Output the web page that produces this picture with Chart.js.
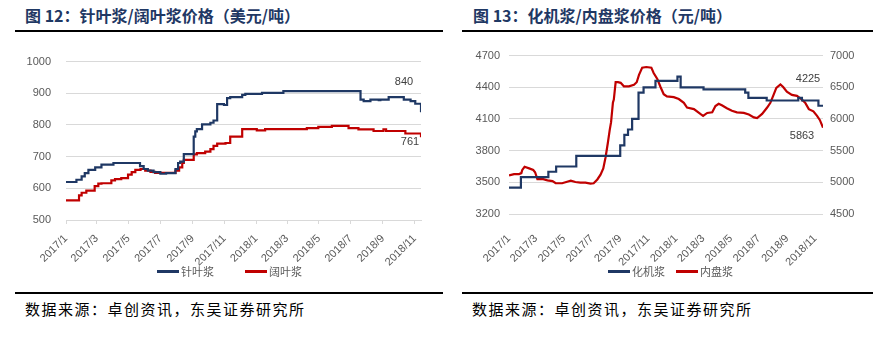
<!DOCTYPE html>
<html>
<head>
<meta charset="utf-8">
<script src="https://cdn.jsdelivr.net/npm/chart.js@4.4.0/dist/chart.umd.min.js"></script>
<style>
  body { margin: 0; width: 894px; height: 343px; background: #fff; position: relative; overflow: hidden; font-family: "Noto Sans CJK SC", sans-serif; }
  .title { position: absolute; top: 5px; font-size: 16px; font-weight: 700; color: #1f3864; white-space: nowrap; line-height: 20px; }
  .rule { position: absolute; height: 2px; background: #000; }
  .source { position: absolute; top: 299px; font-size: 15px; letter-spacing: 1.5px; color: #000; line-height: 20px; white-space: nowrap; }
  canvas { position: absolute; top: 40px; }
  .legend { position: absolute; top: 263px; display: flex; font-size: 11px; color: #595959; line-height: 16px; white-space: nowrap; }
  .legend .item { display: flex; align-items: center; }
  .legend i { display: inline-block; width: 22px; height: 3px; margin-right: 2px; }
</style>
</head>
<body>
<div class="title" style="left:25px">图 12：针叶浆/阔叶浆价格（美元/吨）</div>
<div class="rule" style="left:15px; width:428px; top:30px"></div>
<div class="title" style="left:473px">图 13：化机浆/内盘浆价格（元/吨）</div>
<div class="rule" style="left:462px; width:411px; top:30px"></div>

<canvas id="pulp-import" width="440" height="245" style="left:0"></canvas>
<canvas id="pulp-domestic" width="447" height="245" style="left:447px"></canvas>

<div class="legend" id="legend-import" style="left:157px; gap:31px"></div>
<div class="legend" id="legend-domestic" style="left:608px; gap:11px"></div>

<div class="rule" style="left:15px; width:428px; top:292px"></div>
<div class="source" style="left:25px">数据来源：卓创资讯，东吴证券研究所</div>
<div class="rule" style="left:462px; width:411px; top:292px"></div>
<div class="source" style="left:472px">数据来源：卓创资讯，东吴证券研究所</div>

<script>
const xTickLabels = ['2017/1', '2017/3', '2017/5', '2017/7', '2017/9', '2017/11',
  '2018/1', '2018/3', '2018/5', '2018/7', '2018/9', '2018/11'];

// 针叶浆 (美元/吨): each price holds from its date until the next one
const softwoodDates = ['2017-01-01', '2017-01-21', '2017-01-31', '2017-02-06', '2017-02-13', '2017-02-26',
  '2017-03-10', '2017-04-02', '2017-05-23', '2017-05-30', '2017-06-07', '2017-06-18', '2017-07-01',
  '2017-07-12', '2017-07-30', '2017-08-04', '2017-08-08', '2017-08-15', '2017-09-03', '2017-09-06',
  '2017-09-09', '2017-09-19', '2017-10-05', '2017-10-11', '2017-10-18', '2017-10-31', '2017-11-06',
  '2017-11-12', '2017-12-05', '2017-12-11', '2018-01-12', '2018-02-22', '2018-07-20', '2018-07-26',
  '2018-08-08', '2018-08-24', '2018-08-27', '2018-09-12', '2018-10-11', '2018-10-24', '2018-11-02',
  '2018-11-13'];
const softwoodPrices = [620, 627, 638, 648, 658, 666,
  675, 680, 670, 661, 656, 651, 646,
  648, 661, 680, 684, 708, 763, 780,
  787, 802, 807, 814, 866, 863, 885,
  888, 895, 898, 901, 907, 880, 875,
  880, 878, 880, 888, 880, 875, 867,
  840];

// 阔叶浆 (美元/吨)
const hardwoodDates = ['2017-01-01', '2017-01-26', '2017-01-31', '2017-02-09', '2017-02-25', '2017-03-04',
  '2017-03-10', '2017-03-29', '2017-04-05', '2017-04-17', '2017-04-30', '2017-05-07', '2017-05-14',
  '2017-05-24', '2017-06-02', '2017-06-12', '2017-06-21', '2017-07-30', '2017-08-06', '2017-08-12',
  '2017-08-15', '2017-09-03', '2017-09-09', '2017-09-25', '2017-10-05', '2017-10-11', '2017-10-18',
  '2017-11-03', '2017-11-12', '2017-12-05', '2018-01-02', '2018-01-18', '2018-04-08', '2018-04-30',
  '2018-05-26', '2018-06-27', '2018-07-16', '2018-08-14', '2018-09-02', '2018-09-07', '2018-10-14',
  '2018-11-13'];
const hardwoodPrices = [562, 578, 586, 593, 607, 615,
  616, 625, 629, 632, 643, 651, 658,
  661, 656, 652, 649, 656, 666, 680,
  690, 707, 711, 716, 724, 734, 741,
  743, 763, 787, 783, 787, 790, 794,
  797, 790, 786, 781, 786, 781, 773,
  761];

// 化机浆 (元/吨)
const bctmpDates = ['2017-01-01', '2017-01-27', '2017-03-28', '2017-04-14', '2017-05-28', '2017-09-01',
  '2017-09-10', '2017-09-18', '2017-09-27', '2017-10-11', '2017-10-22', '2017-11-17', '2018-01-04',
  '2018-01-11', '2018-03-02', '2018-06-01', '2018-06-08', '2018-07-18', '2018-09-25', '2018-10-03',
  '2018-11-08', '2018-11-18'];
const bctmpPrices = [3450, 3550, 3600, 3650, 3750, 3850,
  3950, 4000, 4100, 4350, 4400, 4460, 4500,
  4400, 4380, 4350, 4300, 4275, 4300, 4275,
  4225, 4225];

// 内盘浆 (元/吨)
const domesticDates = ['2017-01-01', '2017-01-12', '2017-01-23', '2017-01-28', '2017-01-30', '2017-02-04',
  '2017-02-14', '2017-02-23', '2017-02-27', '2017-03-04', '2017-03-15', '2017-03-26', '2017-04-06',
  '2017-04-13', '2017-04-27', '2017-05-08', '2017-05-16', '2017-05-26', '2017-06-06', '2017-06-17',
  '2017-06-28', '2017-07-05', '2017-07-13', '2017-07-20', '2017-07-26', '2017-07-31', '2017-08-05',
  '2017-08-09', '2017-08-12', '2017-08-16', '2017-08-18', '2017-08-22', '2017-08-27', '2017-09-02',
  '2017-09-09', '2017-09-20', '2017-10-01', '2017-10-07', '2017-10-12', '2017-10-19', '2017-10-28',
  '2017-11-08', '2017-11-13', '2017-11-21', '2017-11-28', '2017-12-05', '2017-12-12', '2017-12-27',
  '2018-01-07', '2018-01-18', '2018-01-25', '2018-02-09', '2018-02-23', '2018-03-01', '2018-03-10',
  '2018-03-21', '2018-03-28', '2018-04-04', '2018-04-11', '2018-04-22', '2018-05-03', '2018-05-14',
  '2018-05-29', '2018-06-09', '2018-06-20', '2018-06-27', '2018-07-08', '2018-07-19', '2018-07-26',
  '2018-08-02', '2018-08-08', '2018-08-17', '2018-08-23', '2018-08-31', '2018-09-11', '2018-09-22',
  '2018-10-03', '2018-10-10', '2018-10-18', '2018-10-28', '2018-11-05', '2018-11-11', '2018-11-16',
  '2018-11-18'];
const domesticPrices = [5110, 5130, 5130, 5145, 5195, 5245,
  5220, 5195, 5160, 5050, 5055, 5030, 5020,
  4985, 4985, 5010, 5025, 5005, 4995, 4995,
  4980, 4985, 5045, 5120, 5220, 5395, 5625,
  5825, 5950, 6255, 6305, 6580, 6580, 6570,
  6515, 6515, 6540, 6580, 6695, 6810, 6820,
  6810, 6725, 6630, 6505, 6390, 6355, 6345,
  6315, 6255, 6180, 6155, 6080, 6050, 6095,
  6105, 6205, 6240, 6215, 6170, 6130, 6105,
  6095, 6070, 6025, 6015, 6080, 6180, 6255,
  6380, 6490, 6545, 6505, 6430, 6380, 6365,
  6305, 6255, 6155, 6120, 6050, 5985, 5900,
  5863];

const NAVY = '#1f3864';
const RED = '#c00000';
const TICK_FONT = { family: '"Liberation Sans", Arial, sans-serif', size: 11 };
const TICK_COLOR = '#595959';
const GRID_COLOR = '#d9d9d9';

// days since 2017-01-01, used as the x value
const BASE = Date.UTC(2017, 0, 1);
function dayOf(str) {
  const [y, m, d] = str.split('-').map(Number);
  return (Date.UTC(y, m - 1, d) - BASE) / 86400000;
}
function toPoints(dates, values) {
  return dates.map((d, i) => ({ x: dayOf(d), y: values[i] }));
}
const xTickDays = xTickLabels.map(l => {
  const [y, m] = l.split('/');
  return dayOf(`${y}-${m}-1`);
});

// prints the last value of a series next to the end of its line
const endLabels = {
  id: 'endLabels',
  afterDatasetsDraw(chart) {
    const ctx = chart.ctx;
    chart.data.datasets.forEach((ds, i) => {
      if (!ds.endLabel) return;
      const pts = chart.getDatasetMeta(i).data;
      const last = pts[pts.length - 1];
      ctx.save();
      ctx.font = '11px "Liberation Sans", Arial, sans-serif';
      ctx.fillStyle = '#404040';
      ctx.textAlign = 'center';
      ctx.textBaseline = 'middle';
      ctx.fillText(String(ds.data[ds.data.length - 1].y), last.x + ds.endLabel.dx, last.y + ds.endLabel.dy);
      ctx.restore();
    });
  }
};

function dateAxis(lastDate, height, showLine, padding) {
  return {
    type: 'linear',
    min: 0,
    max: dayOf(lastDate),
    afterBuildTicks: scale => { scale.ticks = xTickDays.map(v => ({ value: v })); },
    afterFit: scale => { scale.height = height; },
    ticks: {
      autoSkip: false,
      minRotation: 45,
      maxRotation: 45,
      padding: padding,
      font: TICK_FONT,
      color: TICK_COLOR,
      callback: (value, index) => xTickLabels[index]
    },
    grid: { display: showLine, drawOnChartArea: false, tickLength: 4, color: GRID_COLOR },
    border: { display: showLine, color: GRID_COLOR }
  };
}

function valueAxis(min, max, step, width, padding, position) {
  return {
    position: position,
    min: min,
    max: max,
    afterFit: scale => { scale.width = width; },
    ticks: {
      stepSize: step,
      padding: padding,
      font: TICK_FONT,
      color: TICK_COLOR,
      callback: value => String(value)
    },
    grid: { color: GRID_COLOR, drawTicks: false, drawOnChartArea: position === 'left' },
    border: { display: false }
  };
}

function lineSet(label, color, points, stepped, yAxisID, endLabel) {
  return {
    label: label,
    data: points,
    borderColor: color,
    backgroundColor: color,
    borderWidth: 2.2,
    pointRadius: 0,
    stepped: stepped,
    tension: 0,
    yAxisID: yAxisID,
    endLabel: endLabel
  };
}

function buildLegend(id, chart) {
  const box = document.getElementById(id);
  chart.data.datasets.forEach(ds => {
    const item = document.createElement('span');
    item.className = 'item';
    const swatch = document.createElement('i');
    swatch.style.background = ds.borderColor;
    item.appendChild(swatch);
    item.appendChild(document.createTextNode(ds.label));
    box.appendChild(item);
  });
}

const importChart = new Chart(document.getElementById('pulp-import'), {
  type: 'line',
  data: {
    datasets: [
      lineSet('针叶浆', NAVY, toPoints(softwoodDates, softwoodPrices), true, 'y', { dx: -17, dy: -30 }),
      lineSet('阔叶浆', RED, toPoints(hardwoodDates, hardwoodPrices), true, 'y', { dx: -11, dy: 5 })
    ]
  },
  options: {
    responsive: false,
    animation: false,
    devicePixelRatio: 1,
    layout: { padding: { top: 9, right: 19, left: 0, bottom: 0 } },
    plugins: { legend: { display: false }, tooltip: { enabled: false } },
    scales: {
      x: dateAxis('2018-11-13', 65, true, 8),
      y: valueAxis(500, 1000, 100, 66, 15, 'left')
    }
  },
  plugins: [endLabels]
});

const domesticChart = new Chart(document.getElementById('pulp-domestic'), {
  type: 'line',
  data: {
    datasets: [
      lineSet('化机浆', NAVY, toPoints(bctmpDates, bctmpPrices), true, 'y', { dx: -15, dy: -27 }),
      lineSet('内盘浆', RED, toPoints(domesticDates, domesticPrices), false, 'y1', { dx: -21, dy: 8 })
    ]
  },
  options: {
    responsive: false,
    animation: false,
    devicePixelRatio: 1,
    layout: { padding: { top: 9, right: 0, left: 0, bottom: 0 } },
    plugins: { legend: { display: false }, tooltip: { enabled: false } },
    scales: {
      x: dateAxis('2018-11-18', 71, false, 14),
      y: valueAxis(3200, 4700, 300, 62, 9, 'left'),
      y1: valueAxis(4500, 7000, 500, 71, 7, 'right')
    }
  },
  plugins: [endLabels]
});

buildLegend('legend-import', importChart);
buildLegend('legend-domestic', domesticChart);
</script>
</body>
</html>
